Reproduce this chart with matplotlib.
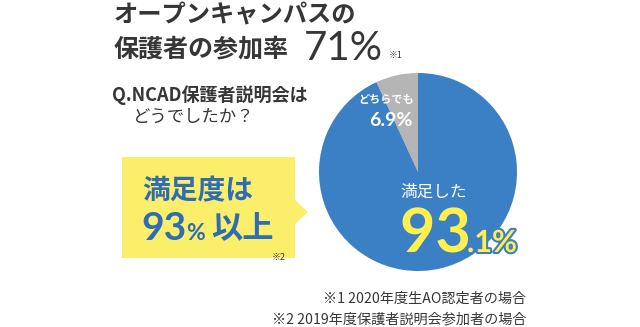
import matplotlib.pyplot as plt
import matplotlib.patheffects as pe
from matplotlib.patches import Polygon

plt.rcParams['font.family'] = ['Noto Sans CJK JP', 'DejaVu Sans']

# data
labels = ['どちらでも', '満足した']
shares = [6.9, 93.1]
slice_colors = ['#b5b5b5', '#3b7fc4']
title_lines = ['オープンキャンパスの', '保護者の参加率']
rate = '71%'
question = ['Q.NCAD保護者説明会は', 'どうでしたか？']
notes = ['※1 2020年度生AO認定者の場合', '※2 2019年度保護者説明会参加者の場合']

W, H = 640, 327
fig = plt.figure(figsize=(W / 100, H / 100), dpi=100)
fig.patch.set_facecolor('white')

# pie in its own square axes (pixel box around center 418,172 r=99)
cx, cy, r = 418, 172, 99
pax = fig.add_axes([(cx - r) / W, (H - cy - r) / H, 2 * r / W, 2 * r / H])
pax.pie(shares, colors=slice_colors, startangle=90, counterclock=True,
        radius=1, wedgeprops=dict(linewidth=0))
pax.set_xlim(-1, 1)
pax.set_ylim(-1, 1)
pax.axis('off')

# overlay in pixel coordinates
ax = fig.add_axes([0, 0, 1, 1])
ax.set_xlim(0, W)
ax.set_ylim(H, 0)
ax.axis('off')

dark = '#363636'
num_font = ['Lato', 'DejaVu Sans']
ax.text(114, 15, title_lines[0], fontsize=17.5, fontweight='bold', color=dark, va='center')
ax.text(114, 49, title_lines[1], fontsize=18, fontweight='bold', color=dark, va='center')
ax.text(304, 48, rate, fontsize=29, color=dark, va='center', family=num_font)
ax.text(389, 55, '※1', fontsize=6.5, color=dark, va='center')

ax.text(112, 95, question[0], fontsize=13, fontweight='bold', color=dark, va='center')
ax.text(133, 117, question[1], fontsize=12.5, color=dark, va='center')

# yellow speech box
box = Polygon([(122, 157), (295, 157), (295, 200), (308, 212), (295, 224),
               (295, 258), (122, 258)], closed=True, facecolor='#fbee6a',
              edgecolor='none')
ax.add_patch(box)
blue_txt = '#2e6db5'
ax.text(142, 191, '満足度は', fontsize=20, fontweight='bold', color=blue_txt, va='center')
ax.text(141, 229, '93', fontsize=28, fontweight='bold', color=blue_txt, va='center',
        family=num_font)
ax.text(186, 233, '%', fontsize=16.5, fontweight='bold', color=blue_txt, va='center',
        family=num_font)
ax.text(211, 228, '以上', fontsize=22.5, fontweight='bold', color=blue_txt, va='center')
ax.text(272, 257, '※2', fontsize=6.5, color=dark, va='center')

# labels inside pie
ax.text(386, 99, labels[0], fontsize=8, fontweight='bold', color='white',
        ha='center', va='center')
ax.text(391, 121, f'{shares[0]}%', fontsize=14, fontweight='bold', color='white',
        ha='center', va='center', family=num_font)
ax.text(400, 192, labels[1], fontsize=12, color='white', va='center')
stroke = [pe.withStroke(linewidth=3, foreground='#3b7fc4')]
big = str(shares[1]).split('.')
ax.text(400, 234, big[0], fontsize=44, fontweight='bold', color='#fff04f',
        va='center', family=num_font, path_effects=stroke)
ax.text(467, 243, '.' + big[1] + '%', fontsize=22, fontweight='bold', color='#fff04f',
        va='center', family=num_font, path_effects=stroke)

ax.text(526, 299, notes[0], fontsize=10.2, color=dark, ha='right', va='center')
ax.text(526, 319, notes[1], fontsize=10.2, color=dark, ha='right', va='center')

fig.savefig('out.png', dpi=100, facecolor='white')
